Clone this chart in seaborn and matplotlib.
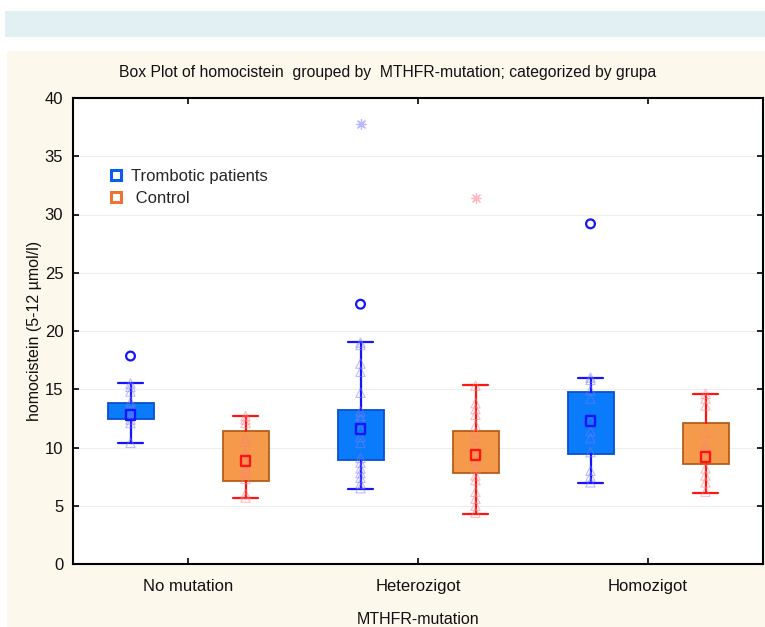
import numpy as np
import pandas as pd
import matplotlib.pyplot as plt
from matplotlib.lines import Line2D
from matplotlib.patches import Rectangle
import seaborn as sns

mutations = ['No mutation', 'Heterozigot', 'Homozigot']
groups = ['Trombotic patients', 'Control']

# box statistics: median, 25-75%, non-outlier range
tromb_median = [12.8, 11.6, 12.3]
tromb_q1 = [12.45, 8.9, 9.4]
tromb_q3 = [13.8, 13.2, 14.8]
tromb_low = [10.4, 6.45, 6.95]
tromb_high = [15.5, 19.05, 16.0]

control_median = [8.85, 9.35, 9.2]
control_q1 = [7.1, 7.8, 8.6]
control_q3 = [11.4, 11.4, 12.1]
control_low = [5.65, 4.3, 6.1]
control_high = [12.7, 15.35, 14.6]

# raw values (faint triangles)
tromb_no_mutation = [15.5, 15.2, 14.8, 13.9, 13.6, 13.1, 12.8, 12.8, 12.4, 12.1, 10.4]
tromb_heterozigot = [19.0, 18.8, 17.2, 16.5, 14.7, 13.1, 12.7, 12.4, 11.6, 10.9, 10.4,
                     9.1, 8.7, 8.2, 7.8, 7.4, 6.9, 6.5]
tromb_homozigot = [16.0, 15.8, 14.9, 14.2, 12.3, 11.4, 10.8, 9.6, 8.0, 7.5, 7.0]
control_no_mutation = [12.7, 12.4, 12.1, 10.8, 10.5, 9.6, 9.3, 8.9, 8.2, 7.8, 7.3, 6.0, 5.7]
control_heterozigot = [15.3, 13.8, 13.3, 12.8, 11.9, 11.3, 10.8, 10.1, 9.3, 8.9, 8.2,
                       7.6, 7.2, 6.2, 5.6, 5.0, 4.4]
control_homozigot = [14.6, 14.2, 13.6, 11.3, 10.2, 9.8, 9.2, 8.2, 7.6, 7.0, 6.2]

# outliers (circles) and extremes (asterisks): mutation index and value
tromb_outlier_at = [0, 1, 2]
tromb_outlier_val = [17.85, 22.3, 29.2]
tromb_extreme_at = [1]
tromb_extreme_val = [37.8]
control_extreme_at = [1]
control_extreme_val = [31.4]

offset = {'Trombotic patients': -0.25, 'Control': 0.25}
box_fill = {'Trombotic patients': '#0a7bfb', 'Control': '#f5994a'}
box_edge = {'Trombotic patients': '#0a4fd0', 'Control': '#b55e1a'}
line_col = {'Trombotic patients': '#1414ff', 'Control': '#ff1414'}
point_col = {'Trombotic patients': '#7c7cff', 'Control': '#ff8080'}

rows = []
for grp, series in [('Trombotic patients', [tromb_no_mutation, tromb_heterozigot, tromb_homozigot]),
                    ('Control', [control_no_mutation, control_heterozigot, control_homozigot])]:
    for i, vals in enumerate(series):
        for v in vals:
            rows.append({'mutation': mutations[i], 'grupa': grp,
                         'x': i + offset[grp], 'homocistein': v})
df = pd.DataFrame(rows)

sns.set_theme(style='white')
plt.rcParams['font.family'] = ['Liberation Sans', 'DejaVu Sans']

fig = plt.figure(figsize=(7.65, 6.27), dpi=100)
fig.add_artist(Rectangle((5 / 765, 1 - 37 / 627), 1, 26 / 627, transform=fig.transFigure,
                         facecolor='#e2f0f4', edgecolor='none', zorder=-2))
fig.add_artist(Rectangle((7 / 765, 0), 1, 1 - 51 / 627, transform=fig.transFigure,
                         facecolor='#fdf8ec', edgecolor='none', zorder=-2))
ax = fig.add_axes([73 / 765, 63 / 627, 690 / 765, 466 / 627])
ax.set_facecolor('white')

# boxes
for grp, med, q1, q3, lo, hi in [
        ('Trombotic patients', tromb_median, tromb_q1, tromb_q3, tromb_low, tromb_high),
        ('Control', control_median, control_q1, control_q3, control_low, control_high)]:
    stats = [dict(med=m, q1=a, q3=b, whislo=l, whishi=h, fliers=[])
             for m, a, b, l, h in zip(med, q1, q3, lo, hi)]
    pos = np.arange(len(mutations)) + offset[grp]
    ax.bxp(stats, positions=pos, widths=0.2, capwidths=0.105, patch_artist=True,
           showfliers=False, manage_ticks=False,
           boxprops=dict(facecolor=box_fill[grp], edgecolor=box_edge[grp], linewidth=1.3),
           whiskerprops=dict(color=line_col[grp], linewidth=1.6),
           capprops=dict(color=line_col[grp], linewidth=1.6),
           medianprops=dict(linewidth=0))

# raw points
for grp in groups:
    sub = df[df['grupa'] == grp]
    sns.scatterplot(data=sub, x='x', y='homocistein', marker='^', s=45,
                    facecolor='none', edgecolor=point_col[grp], linewidth=0.8,
                    alpha=0.5, ax=ax, legend=False, zorder=3)

# medians
for grp, med in [('Trombotic patients', tromb_median), ('Control', control_median)]:
    sns.scatterplot(x=np.arange(len(mutations)) + offset[grp], y=med, marker='s', s=48,
                    facecolor='none', edgecolor=line_col[grp], linewidth=1.7,
                    ax=ax, legend=False, zorder=4)

# outliers and extremes
sns.scatterplot(x=np.array(tromb_outlier_at) + offset['Trombotic patients'], y=tromb_outlier_val,
                marker='o', s=40, facecolor='none', edgecolor='#1414ff', linewidth=1.6,
                ax=ax, legend=False, zorder=4)
sns.scatterplot(x=np.array(tromb_extreme_at) + offset['Trombotic patients'], y=tromb_extreme_val,
                marker=(8, 2, 0), s=50, color='#b8b8ff', linewidth=0.9,
                ax=ax, legend=False, zorder=4)
sns.scatterplot(x=np.array(control_extreme_at) + offset['Control'], y=control_extreme_val,
                marker=(8, 2, 0), s=50, color='#ffb8c4', linewidth=0.9,
                ax=ax, legend=False, zorder=4)

ax.set_xlim(-0.5, 2.5)
ax.set_ylim(0, 40)
ax.set_yticks(np.arange(0, 41, 5))
ax.set_xticks(np.arange(len(mutations)))
ax.set_xticklabels(mutations)
ax.yaxis.grid(True, color='#eeeeee', linewidth=0.8)
ax.set_axisbelow(True)
ax.tick_params(direction='in', length=4, width=1.2, top=True, right=True, bottom=True,
               left=True, labelsize=12, colors='black', labelcolor='#111111')
ax.tick_params(axis='x', pad=11)
ax.tick_params(axis='y', pad=7)
for sp in ax.spines.values():
    sp.set_color('black')
    sp.set_linewidth(1.5)

ax.set_xlabel('MTHFR-mutation', fontsize=11.5, labelpad=13, color='#111111')
ax.set_ylabel('homocistein (5-12 µmol/l)', fontsize=11.5, labelpad=2, color='#111111')
fig.text(388 / 765, 1 - 73 / 627, 'Box Plot of homocistein  grouped by  MTHFR-mutation; categorized by grupa',
         ha='center', va='center', fontsize=11.3, color='#111111')

handles = [Line2D([], [], marker='s', ls='', markersize=6.5, markerfacecolor='white',
                  markeredgecolor='#0a5cf0', markeredgewidth=2.2),
           Line2D([], [], marker='s', ls='', markersize=6.5, markerfacecolor='white',
                  markeredgecolor='#ee7236', markeredgewidth=2.2)]
ax.legend(handles, ['Trombotic patients', ' Control'], loc='upper left',
          bbox_to_anchor=(0.052, 0.847), frameon=False, fontsize=12,
          handlelength=0.8, handletextpad=0.5, labelspacing=0.4, borderpad=0, borderaxespad=0)

fig.savefig('out.png', dpi=100)
